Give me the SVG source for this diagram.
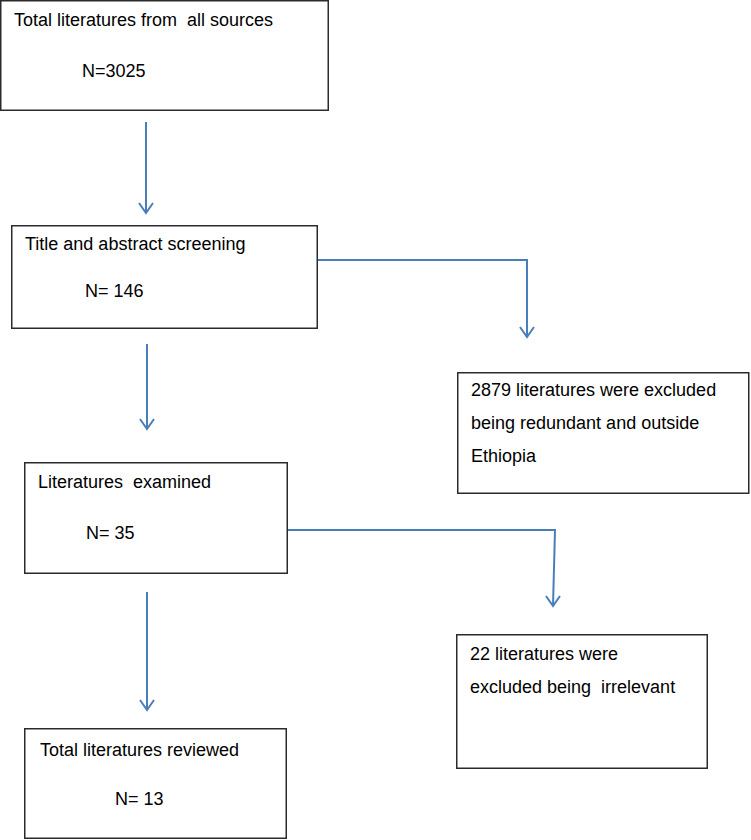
<svg xmlns="http://www.w3.org/2000/svg" width="751" height="840" viewBox="0 0 751 840">
<style>
.box{fill:#fff;stroke:#2b2b2b;stroke-width:1.5}
.t{font-family:"Liberation Sans",Arial,sans-serif;font-size:18px;fill:#000;white-space:pre}
.c{fill:none;stroke:#4a7ebb;stroke-width:2}
.h{fill:none;stroke:#4a7ebb;stroke-width:2}
</style>
<rect width="751" height="840" fill="#fff"/>
<g id="connectors">
<line class="c" x1="146" y1="122" x2="146" y2="213"/>
<path class="h" d="M139,203 L146,213 L153,203"/>
<path class="c" d="M297,260 H527 V337"/>
<path class="h" d="M520,327 L527,337 L534,327"/>
<line class="c" x1="147" y1="344" x2="147" y2="429"/>
<path class="h" d="M140,419 L147,429 L154,419"/>
<path class="c" d="M288,530 H555 L553,606"/>
<path class="h" d="M546,596 L553,606 L560,596"/>
<line class="c" x1="147" y1="592" x2="147" y2="710"/>
<path class="h" d="M140,700 L147,710 L154,700"/>
</g>
<g id="n1">
<rect class="box" x="0.75" y="0.75" width="327.5" height="109.5"/>
<text class="t" x="14" y="26" xml:space="preserve">Total literatures from  all sources</text>
<text class="t" x="82" y="77">N=3025</text>
</g>
<g id="n2">
<rect class="box" x="11.75" y="225.75" width="305.5" height="102.5"/>
<text class="t" x="25" y="250">Title and abstract screening</text>
<text class="t" x="85" y="297">N= 146</text>
</g>
<g id="n3">
<rect class="box" x="457.75" y="372.75" width="291" height="120.5"/>
<text class="t" x="471" y="396">2879 literatures were excluded</text>
<text class="t" x="471" y="429">being redundant and outside</text>
<text class="t" x="471" y="462">Ethiopia</text>
</g>
<g id="n4">
<rect class="box" x="24.75" y="462.75" width="262.5" height="110.5"/>
<text class="t" x="38" y="488" xml:space="preserve">Literatures  examined</text>
<text class="t" x="86" y="539">N= 35</text>
</g>
<g id="n5">
<rect class="box" x="456.75" y="634.75" width="250.5" height="133.5"/>
<text class="t" x="470" y="660">22 literatures were</text>
<text class="t" x="470" y="693" xml:space="preserve">excluded being  irrelevant</text>
</g>
<g id="n6">
<rect class="box" x="24.75" y="728.75" width="261.5" height="109.5"/>
<text class="t" x="40" y="756">Total literatures reviewed</text>
<text class="t" x="115" y="805">N= 13</text>
</g>
</svg>
